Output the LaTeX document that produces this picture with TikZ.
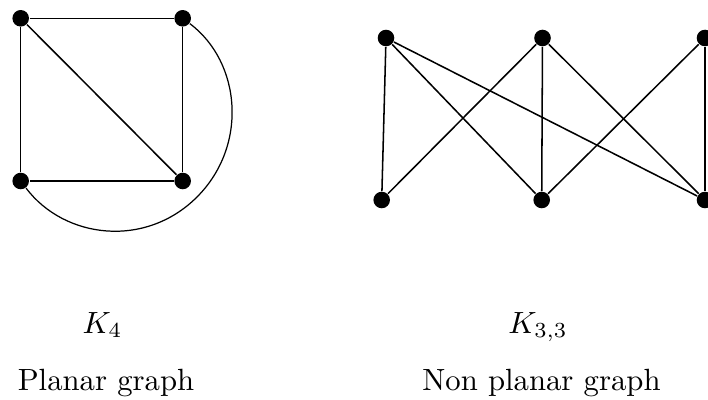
\documentclass[tikz,border=0pt]{standalone}
\usepackage{tikz}
\tikzset{vtx/.style={circle,fill=black,draw=none,minimum size=5.4pt,inner sep=0pt}}

\begin{document}
\begin{tikzpicture}[x=0.3257pt,y=-0.3257pt,
    edge/.style={draw=black,line width=0.5pt},
    lbl/.style={inner sep=0pt,outer sep=0pt,anchor=base}]
  \path[use as bounding box] (0,0) rectangle (708,400);

  % K4: square, one diagonal inside, the other one bent round the outside
  \node[vtx] (tl) at (20.7,18.3) {};
  \node[vtx] (tr) at (182.7,18.3) {};
  \node[vtx] (bl) at (20.7,181) {};
  \node[vtx] (br) at (182.7,181) {};
  \coordinate (bend) at (197,197);
  \draw[edge] (tl) -- (tr);
  \draw[edge] (tr) -- (br);
  \draw[edge] (br) -- (bl);
  \draw[edge] (bl) -- (tl);
  \draw[edge] (tl) -- (br);
  \draw[edge,line width=0.4pt] (tr) .. controls (241,62) and (248.5,145.5) .. (bend)
    .. controls (145.5,248.5) and (64.5,239) .. (bl);

  % K3,3: top row a1..a3, bottom row b1..b3
  \node[vtx] (a1) at (386,38) {};
  \node[vtx] (a2) at (542.5,38) {};
  \node[vtx] (a3) at (705,38) {};
  \node[vtx] (b1) at (381.7,200) {};
  \node[vtx] (b2) at (541.7,200) {};
  \node[vtx] (b3) at (705,200) {};
  \draw[edge] (a1) -- (b1);
  \draw[edge] (a1) -- (b2);
  \draw[edge] (a1) -- (b3);
  \draw[edge] (a2) -- (b1);
  \draw[edge] (a2) -- (b2);
  \draw[edge] (a2) -- (b3);
  \draw[edge] (a3) -- (b2);
  \draw[edge] (a3) -- (b3);

  % Captions
  \node[lbl] (k4) at (102.5,333) {$K_4$};
  \node[lbl] (planar) at (106,390) {Planar graph};
  \node[lbl] (k33) at (538,333) {$K_{3,3}$};
  \node[lbl] (nonplanar) at (541.5,390) {Non planar graph};
\end{tikzpicture}
\end{document}
